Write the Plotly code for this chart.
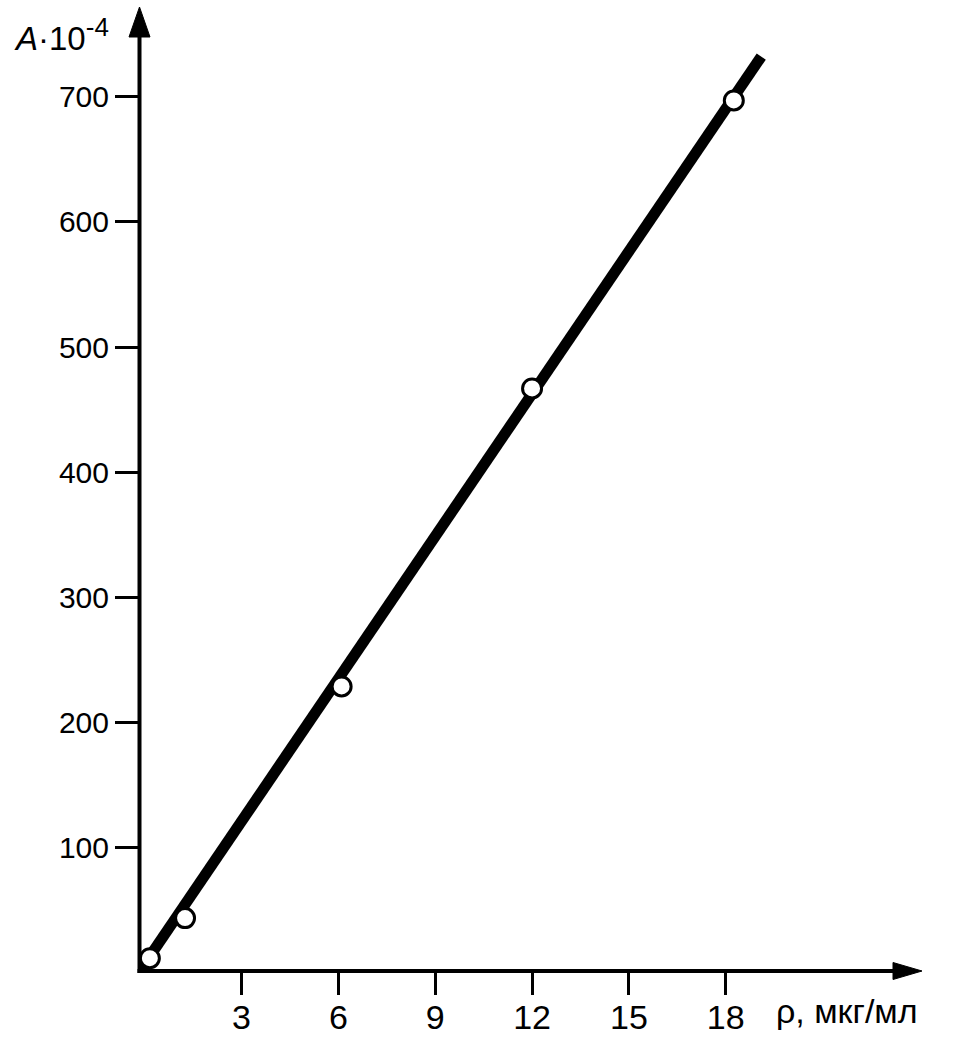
import plotly.graph_objects as go

# data
conc = [0.16, 1.25, 6.1, 12.0, 18.25]
absorb = [12, 44, 229, 467, 697]
fit_x = [-0.12, 19.1]
fit_y = [3, 732]
x_ticks = [3, 6, 9, 12, 15, 18]
y_ticks = [100, 200, 300, 400, 500, 600, 700]

W, H = 958, 1060
L, R, T, B = 140, 36, 7, 89
pw, ph = W - L - R, H - T - B

def px(x):
    return (x - L) / pw

def py(y):
    return (H - B - y) / ph

FONT = "Arial, Liberation Sans, sans-serif"

fig = go.Figure()
fig.add_trace(go.Scatter(x=fit_x, y=fit_y, mode="lines",
                         line=dict(color="black", width=11), hoverinfo="skip",
                         showlegend=False))
fig.add_trace(go.Scatter(x=conc, y=absorb, mode="markers",
                         marker=dict(symbol="circle", size=19, color="white",
                                     line=dict(color="black", width=3)),
                         cliponaxis=False, showlegend=False))

shapes = [
    dict(type="line", xref="paper", yref="paper", x0=px(139.5), x1=px(139.5),
         y0=py(973), y1=py(30), line=dict(color="black", width=4)),
    dict(type="line", xref="paper", yref="paper", x0=px(137.5), x1=px(900),
         y0=py(971), y1=py(971), line=dict(color="black", width=4)),
    dict(type="path", xref="paper", yref="paper",
         path=f"M {px(139.5)},{py(7)} L {px(150)},{py(37)} L {px(129)},{py(37)} Z",
         fillcolor="black", line=dict(color="black", width=1)),
    dict(type="path", xref="paper", yref="paper",
         path=f"M {px(922)},{py(971)} L {px(893)},{py(962.5)} L {px(893)},{py(979.5)} Z",
         fillcolor="black", line=dict(color="black", width=1)),
]

annotations = [
    dict(text="<i>A</i>·10<sup><span style='font-size:26px'>-4</span></sup>",
         xref="paper", yref="paper",
         x=px(12), y=py(34), xanchor="left", yanchor="middle", showarrow=False,
         font=dict(family=FONT, size=33, color="black")),
    dict(text="ρ, мкг/мл", xref="paper", yref="paper",
         x=px(774), y=py(1011), xanchor="left", yanchor="middle", showarrow=False,
         font=dict(family=FONT, size=34, color="black")),
]

x_lo = (L - 144.7) / 32.28
x_hi = (W - R - 144.7) / 32.28
y_lo = (973.2 - (H - B)) / 1.2522
y_hi = (973.2 - T) / 1.2522

fig.update_layout(
    width=W, height=H,
    margin=dict(l=L, r=R, t=T, b=B, pad=0),
    paper_bgcolor="white", plot_bgcolor="white",
    shapes=shapes, annotations=annotations,
    xaxis=dict(range=[x_lo, x_hi], tickvals=x_ticks, ticktext=[str(v) for v in x_ticks],
               ticks="outside", ticklen=23, tickwidth=3, tickcolor="black",
               ticklabelstandoff=-7,
               showgrid=False, zeroline=False, showline=False,
               tickfont=dict(family=FONT, size=34, color="black")),
    yaxis=dict(range=[y_lo, y_hi], tickvals=y_ticks, ticktext=[str(v) for v in y_ticks],
               ticks="outside", ticklen=24, tickwidth=3, tickcolor="black",
               showgrid=False, zeroline=False, showline=False,
               tickfont=dict(family=FONT, size=30, color="black")),
)

fig.write_html("out.html", config={"displayModeBar": False},
               post_script="document.body.style.margin='0';document.body.style.padding='0';")
